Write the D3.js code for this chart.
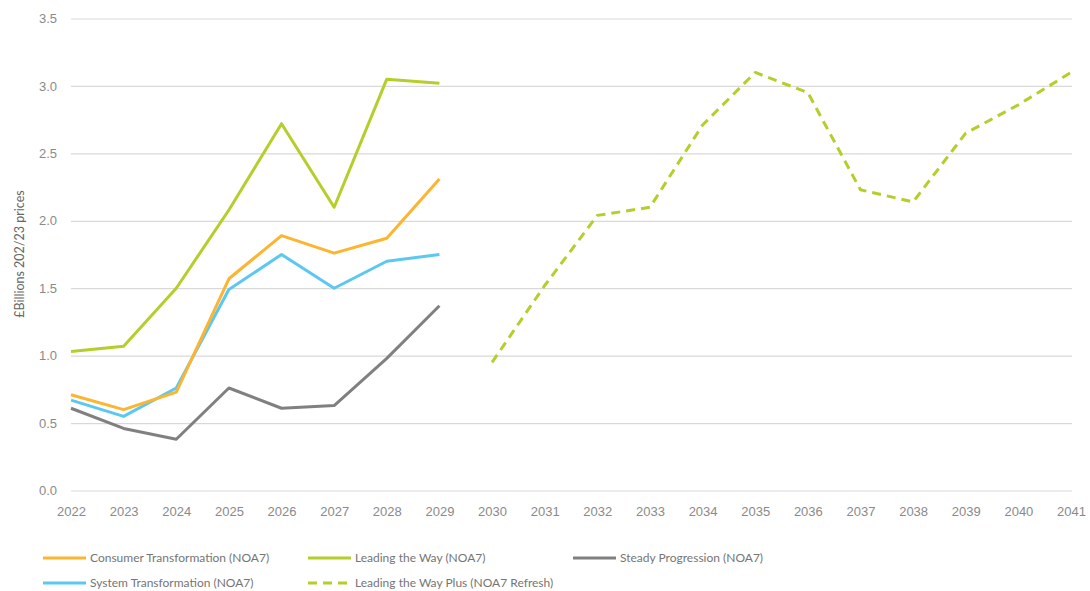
<!DOCTYPE html>
<html>
<head>
<meta charset="utf-8">
<script src="https://cdn.jsdelivr.net/npm/d3@7"></script>
<style>
  html, body { margin: 0; padding: 0; background: #fff; }
  svg { display: block; font-family: Lato, "Open Sans", sans-serif; }
</style>
</head>
<body>
<svg id="chart" width="1090" height="591"></svg>
<script>
const yearsNOA7 = [2022, 2023, 2024, 2025, 2026, 2027, 2028, 2029];
const yearsRefresh = [2030, 2031, 2032, 2033, 2034, 2035, 2036, 2037, 2038, 2039, 2040, 2041];
const xTickYears = [2022, 2023, 2024, 2025, 2026, 2027, 2028, 2029, 2030, 2031, 2032, 2033, 2034, 2035, 2036, 2037, 2038, 2039, 2040, 2041];
const yTicks = [0, 0.5, 1.0, 1.5, 2.0, 2.5, 3.0, 3.5];

const consumerTransformation = [0.71, 0.60, 0.73, 1.57, 1.89, 1.76, 1.87, 2.31];
const leadingTheWay = [1.03, 1.07, 1.50, 2.08, 2.72, 2.10, 3.05, 3.02];
const steadyProgression = [0.61, 0.46, 0.38, 0.76, 0.61, 0.63, 0.98, 1.37];
const systemTransformation = [0.67, 0.55, 0.76, 1.49, 1.75, 1.50, 1.70, 1.75];
const leadingTheWayPlus = [0.95, 1.52, 2.04, 2.10, 2.71, 3.10, 2.95, 2.23, 2.14, 2.65, 2.86, 3.10];

const seriesNames = [
  "Consumer Transformation (NOA7)",
  "Leading the Way (NOA7)",
  "Steady Progression (NOA7)",
  "System Transformation (NOA7)",
  "Leading the Way Plus (NOA7 Refresh)"
];
const yLabel = "£Billions 202/23 prices";

const colors = {
  orange: "#FDB52F",
  green: "#B6CE2A",
  grey: "#808080",
  blue: "#5BC8F2"
};

const svg = d3.select("#chart");
const x = d3.scaleLinear().domain([2022, 2041]).range([71, 1071]);
const y = d3.scaleLinear().domain([0, 3.5]).range([490.5, 18.5]);

// gridlines
const yAxis = d3.axisLeft(y).tickValues(yTicks).tickFormat(d3.format(".1f"))
  .tickSize(-(1072 - 71)).tickPadding(14);
const gy = svg.append("g").attr("transform", "translate(71,0)").call(yAxis);
gy.select(".domain").remove();
gy.selectAll(".tick line").attr("stroke", "#d9d9d9").attr("stroke-width", 1.2);
gy.selectAll(".tick text").attr("fill", "#8a8a8a").style("font-size", "13px");

// x axis
const xAxis = d3.axisBottom(x).tickValues(xTickYears).tickFormat(d3.format("d"))
  .tickSize(0).tickPadding(16);
const gx = svg.append("g").attr("transform", "translate(0,490.5)").call(xAxis);
gx.select(".domain").remove();
gx.selectAll(".tick text").attr("fill", "#8a8a8a").style("font-size", "13px");

// y label
svg.append("text")
  .attr("transform", "translate(24,254) rotate(-90)")
  .attr("text-anchor", "middle")
  .attr("fill", "#666")
  .style("font-size", "12.5px")
  .text(yLabel);

const line = d3.line().x(d => x(d[0])).y(d => y(d[1]));

function drawSeries(years, vals, color, dashed) {
  svg.append("path")
    .datum(years.map((yr, i) => [yr, vals[i]]))
    .attr("fill", "none")
    .attr("stroke", color)
    .attr("stroke-width", 3)
    .attr("stroke-linejoin", "round")
    .attr("stroke-dasharray", dashed ? "9,6" : null)
    .attr("d", line);
}

drawSeries(yearsNOA7, steadyProgression, colors.grey, false);
drawSeries(yearsNOA7, systemTransformation, colors.blue, false);
drawSeries(yearsNOA7, consumerTransformation, colors.orange, false);
drawSeries(yearsNOA7, leadingTheWay, colors.green, false);
drawSeries(yearsRefresh, leadingTheWayPlus, colors.green, true);

// legend
const legendItems = [
  { name: seriesNames[0], color: colors.orange, dashed: false, lx: 43, ly: 558 },
  { name: seriesNames[1], color: colors.green, dashed: false, lx: 308, ly: 558 },
  { name: seriesNames[2], color: colors.grey, dashed: false, lx: 573, ly: 558 },
  { name: seriesNames[3], color: colors.blue, dashed: false, lx: 43, ly: 583 },
  { name: seriesNames[4], color: colors.green, dashed: true, lx: 308, ly: 583 }
];
const lg = svg.append("g").selectAll("g").data(legendItems).join("g")
  .attr("transform", d => `translate(${d.lx},${d.ly})`);
lg.append("line")
  .attr("x1", 0).attr("x2", 43).attr("y1", 0).attr("y2", 0)
  .attr("stroke", d => d.color).attr("stroke-width", 3)
  .attr("stroke-dasharray", d => d.dashed ? "9,6" : null);
lg.append("text")
  .attr("x", 47).attr("y", 0).attr("dy", "0.35em")
  .attr("fill", "#757575")
  .style("font-size", "12px")
  .text(d => d.name);
</script>
</body>
</html>
